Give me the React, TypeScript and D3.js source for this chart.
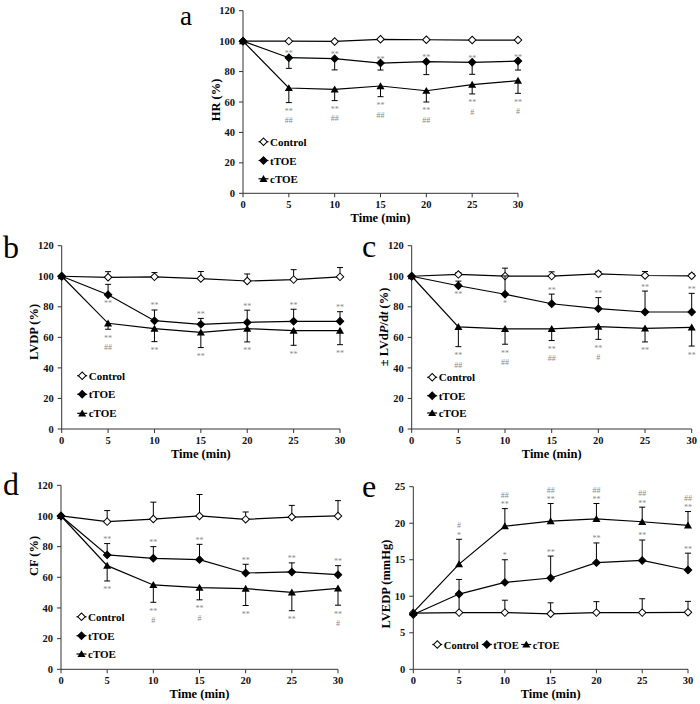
import React from "react";
import * as d3 from "d3";

// ---------- data ----------
const TIME = [0, 5, 10, 15, 20, 25, 30];
const X_TICKS = [0, 5, 10, 15, 20, 25, 30];
const PCT_TICKS = [0, 20, 40, 60, 80, 100, 120];
const MMHG_TICKS = [0, 5, 10, 15, 20, 25];
const SERIES_NAMES = ["Control", "tTOE", "cTOE"];

// a: HR (%)
const hrControl = [100, 100.0, 99.8, 101.2, 100.9, 100.7, 100.7];
const hrControlErr = [0, 0, 0, 0, 0, 0, 0];
const hrTTOE = [100, 89.1, 88.5, 85.6, 86.5, 86.1, 86.9];
const hrTTOEErr = [0, -7.0, -7.4, -4.6, -8.5, -7.9, -5.9];
const hrCTOE = [100, 69.2, 68.3, 70.5, 67.4, 71.4, 74.0];
const hrCTOEErr = [0, -9.6, -7.4, -7.0, -7.4, -6.1, -8.3];
const hrTTOEMarks = ["", "**", "**", "**", "**", "**", "**"];
const hrTTOEMarkPos = [0, 1, 1, 1, 1, 1, 1];
const hrCTOEMarks = ["", "**\n##", "**\n##", "**\n##", "**\n##", "**\n#", "**\n#"];
const hrCTOEMarkPos = [0, -1, -1, -1, -1, -1, -1];

// b: LVDP (%)
const lvdpControl = [100, 99.3, 99.6, 98.5, 96.9, 97.8, 99.6];
const lvdpControlErr = [0, 3.7, 2.8, 4.6, 4.6, 6.5, 6.1];
const lvdpTTOE = [100, 87.9, 70.9, 68.5, 69.8, 70.5, 70.5];
const lvdpTTOEErr = [0, 6.8, 7.0, 3.9, 8.0, 7.9, 6.3];
const lvdpCTOE = [100, 69.2, 65.7, 63.3, 65.7, 64.4, 64.4];
const lvdpCTOEErr = [0, -3.9, -8.5, -10.0, -8.7, -9.6, -9.2];
const lvdpTTOEMarks = ["", "**", "**", "**", "**", "**", "**"];
const lvdpTTOEMarkPos = [0, -1, 1, 1, 1, 1, 1];
const lvdpCTOEMarks = ["", "**\n##", "**", "**", "**", "**", "**"];
const lvdpCTOEMarkPos = [0, -1, -1, -1, -1, -1, -1];

// c: ±LVdP/dt (%)
const dpdtControl = [100, 101.2, 100.1, 100.1, 101.6, 100.5, 100.3];
const dpdtControlErr = [0, 1.2, 5.2, 2.8, 1.5, 2.6, 1.2];
const dpdtTTOE = [100, 93.8, 88.2, 82.0, 78.8, 76.6, 76.6];
const dpdtTTOEErr = [0, 3.0, 12.0, 6.3, 7.2, 13.7, 12.2];
const dpdtCTOE = [100, 66.8, 65.5, 65.5, 67.0, 65.9, 66.5];
const dpdtCTOEErr = [0, -12.9, -10.0, -7.6, -8.3, -8.9, -12.2];
const dpdtTTOEMarks = ["", "**", "*", "**", "**", "**", "**"];
const dpdtTTOEMarkPos = [0, -1, -1, 1, 1, 1, 1];
const dpdtCTOEMarks = ["", "**\n##", "**\n##", "**\n##", "**\n#", "**", "**"];
const dpdtCTOEMarkPos = [0, -1, -1, -1, -1, -1, -1];

// d: CF (%)
const cfControl = [100, 96.3, 98.0, 100.0, 97.8, 99.3, 100.0];
const cfControlErr = [0, 7.2, 11.0, 14.0, 4.8, 7.6, 10.0];
const cfTTOE = [100, 74.6, 72.4, 71.5, 62.8, 63.5, 61.7];
const cfTTOEErr = [0, 7.4, 7.6, 10.0, 5.7, 5.9, 5.9];
const cfCTOE = [100, 67.6, 55.0, 53.3, 52.6, 50.2, 52.8];
const cfCTOEErr = [0, -10.0, -11.3, -8.0, -11.0, -12.0, -11.0];
const cfTTOEMarks = ["", "**", "**", "**", "**", "**", "**"];
const cfTTOEMarkPos = [0, 1, 1, 1, 1, 1, 1];
const cfCTOEMarks = ["", "**", "**\n#", "**\n#", "**", "**", "**\n#"];
const cfCTOEMarkPos = [0, -1, -1, -1, -1, -1, -1];

// e: LVEDP (mmHg)
const lvedpControl = [7.7, 7.76, 7.76, 7.6, 7.76, 7.76, 7.8];
const lvedpControlErr = [0, 2.5, 1.7, 1.5, 1.5, 1.9, 1.5];
const lvedpTTOE = [7.5, 10.3, 11.9, 12.5, 14.6, 14.9, 13.6];
const lvedpTTOEErr = [0, 2.0, 3.1, 3.0, 2.7, 2.8, 2.3];
const lvedpCTOE = [7.8, 14.4, 19.6, 20.3, 20.6, 20.2, 19.7];
const lvedpCTOEErr = [0, 3.4, 2.4, 2.4, 2.1, 2.0, 1.9];
const lvedpTTOEMarks = ["", "", "*", "**", "**", "**", "**"];
const lvedpTTOEMarkPos = [0, 0, 1, 1, 1, 1, 1];
const lvedpCTOEMarks = ["", "#\n*", "##\n**", "##\n**", "##\n**", "##\n**", "##\n**"];
const lvedpCTOEMarkPos = [0, 1, 1, 1, 1, 1, 1];

const NO_MARKS = ["", "", "", "", "", "", ""];
const NO_POS = [0, 0, 0, 0, 0, 0, 0];

// ---------- layout ----------
const SERIF = "'Liberation Serif', 'Times New Roman', serif";

type Series = { values: number[]; errors: number[]; marks: string[]; pos: number[] };
type PanelCfg = {
  letter: string; letterX: number; letterY: number; letterSize: number;
  x0: number; x1: number; yTop: number; yBottom: number; yMax: number; yTicks: number[];
  yTitle: React.ReactNode; yTitleY: number; xTitleDy: number;
  legend: "vertical" | "horizontal"; legendY: number[]; series: Series[];
};

const mk = (values: number[], errors: number[], marks: string[], pos: number[]): Series => ({ values, errors, marks, pos });

const PANELS: PanelCfg[] = [
  {
    letter: "a", letterX: 180, letterY: 24.5, letterSize: 27, x0: 243, x1: 518, yTop: 10.7, yBottom: 193.3, yMax: 120, yTicks: PCT_TICKS,
    yTitle: "HR (%)", yTitleY: 100, xTitleDy: 29, legend: "vertical", legendY: [51.6, 32.8, 14.5],
    series: [mk(hrControl, hrControlErr, NO_MARKS, NO_POS), mk(hrTTOE, hrTTOEErr, hrTTOEMarks, hrTTOEMarkPos), mk(hrCTOE, hrCTOEErr, hrCTOEMarks, hrCTOEMarkPos)],
  },
  {
    letter: "b", letterX: 3, letterY: 258, letterSize: 32, x0: 61.7, x1: 340, yTop: 245.7, yBottom: 429, yMax: 120, yTicks: PCT_TICKS,
    yTitle: "LVDP (%)", yTitleY: 332, xTitleDy: 28.5, legend: "vertical", legendY: [53.3, 34.7, 15.7],
    series: [mk(lvdpControl, lvdpControlErr, NO_MARKS, NO_POS), mk(lvdpTTOE, lvdpTTOEErr, lvdpTTOEMarks, lvdpTTOEMarkPos), mk(lvdpCTOE, lvdpCTOEErr, lvdpCTOEMarks, lvdpCTOEMarkPos)],
  },
  {
    letter: "c", letterX: 362, letterY: 257, letterSize: 32, x0: 411.7, x1: 691.7, yTop: 245.7, yBottom: 429, yMax: 120, yTicks: PCT_TICKS,
    yTitle: (
      <>
        {"± LVd"}<tspan fontStyle="italic">P</tspan>{"/d"}<tspan fontStyle="italic">t</tspan>{" (%)"}
      </>
    ),
    yTitleY: 327, xTitleDy: 28.5, legend: "vertical", legendY: [51.7, 33.3, 16],
    series: [mk(dpdtControl, dpdtControlErr, NO_MARKS, NO_POS), mk(dpdtTTOE, dpdtTTOEErr, dpdtTTOEMarks, dpdtTTOEMarkPos), mk(dpdtCTOE, dpdtCTOEErr, dpdtCTOEMarks, dpdtCTOEMarkPos)],
  },
  {
    letter: "d", letterX: 3, letterY: 495, letterSize: 32, x0: 61, x1: 338, yTop: 485.3, yBottom: 669.3, yMax: 120, yTicks: PCT_TICKS,
    yTitle: "CF (%)", yTitleY: 556, xTitleDy: 29, legend: "vertical", legendY: [52.6, 33.6, 15.3],
    series: [mk(cfControl, cfControlErr, NO_MARKS, NO_POS), mk(cfTTOE, cfTTOEErr, cfTTOEMarks, cfTTOEMarkPos), mk(cfCTOE, cfCTOEErr, cfCTOEMarks, cfCTOEMarkPos)],
  },
  {
    letter: "e", letterX: 362, letterY: 497, letterSize: 32, x0: 413.3, x1: 688, yTop: 486.7, yBottom: 669.3, yMax: 25, yTicks: MMHG_TICKS,
    yTitle: "LVEDP (mmHg)", yTitleY: 584, xTitleDy: 29, legend: "horizontal", legendY: [24.8],
    series: [mk(lvedpControl, lvedpControlErr, NO_MARKS, NO_POS), mk(lvedpTTOE, lvedpTTOEErr, lvedpTTOEMarks, lvedpTTOEMarkPos), mk(lvedpCTOE, lvedpCTOEErr, lvedpCTOEMarks, lvedpCTOEMarkPos)],
  },
];

const diamondPath = d3.symbol(d3.symbolSquare, 28)() as string;
const trianglePath = d3.symbol(d3.symbolTriangle, 28)() as string;

function Marker({ kind, x, y }: { kind: number; x: number; y: number }) {
  if (kind === 2) return <path d={trianglePath} transform={`translate(${x},${y + 0.8})`} fill="#000" />;
  return (
    <path
      d={diamondPath}
      transform={`translate(${x},${y}) rotate(45)`}
      fill={kind === 0 ? "#fff" : "#000"}
      stroke="#000"
      strokeWidth={1}
    />
  );
}

const ANN_FS = 8;
const ANN_STEP = 9.4;
const annOffset = (ln: string) => (ln.includes("*") ? ANN_FS * 0.62 : ANN_FS * 0.32);

function Panel({ cfg }: { cfg: PanelCfg }) {
  const x = d3.scaleLinear().domain([0, 30]).range([cfg.x0, cfg.x1]);
  const y = d3.scaleLinear().domain([0, cfg.yMax]).range([cfg.yBottom, cfg.yTop]);
  const line = d3.line<number>().x((_, i) => x(TIME[i])).y((v) => y(v));
  const midX = (cfg.x0 + cfg.x1) / 2;

  return (
    <g>
      <text x={cfg.letterX} y={cfg.letterY} fontFamily={SERIF} fontSize={cfg.letterSize} fill="#000">{cfg.letter}</text>

      {/* axes */}
      <line x1={cfg.x0} x2={cfg.x0} y1={cfg.yTop} y2={cfg.yBottom} stroke="#333" strokeWidth={1} />
      <line x1={cfg.x0} x2={cfg.x1} y1={cfg.yBottom} y2={cfg.yBottom} stroke="#333" strokeWidth={1} />
      {cfg.yTicks.map((t) => (
        <g key={"yt" + t}>
          <line x1={cfg.x0 - 4} x2={cfg.x0} y1={y(t)} y2={y(t)} stroke="#333" />
          <text x={cfg.x0 - 8} y={y(t) + 3.6} textAnchor="end" fontFamily={SERIF} fontWeight="bold" fontSize={10.5} fill="#111">{t}</text>
        </g>
      ))}
      {X_TICKS.map((t) => (
        <g key={"xt" + t}>
          <line x1={x(t)} x2={x(t)} y1={cfg.yBottom} y2={cfg.yBottom + 4} stroke="#333" />
          <text x={x(t)} y={cfg.yBottom + 15} textAnchor="middle" fontFamily={SERIF} fontWeight="bold" fontSize={10.5} fill="#111">{t}</text>
        </g>
      ))}
      <text x={midX} y={cfg.yBottom + cfg.xTitleDy} textAnchor="middle" fontFamily={SERIF} fontWeight="bold" fontSize={12.5} fill="#000">Time (min)</text>
      <text
        transform={`translate(${cfg.x0 - 23.5},${cfg.yTitleY}) rotate(-90)`}
        textAnchor="middle" fontFamily={SERIF} fontWeight="bold" fontSize={12.5} fill="#000"
      >{cfg.yTitle}</text>

      {/* series */}
      {cfg.series.map((s, si) => (
        <g key={"s" + si}>
          {s.values.map((v, i) =>
            s.errors[i] === 0 ? null : (
              <g key={"e" + i} stroke="#000" strokeWidth={1}>
                <line x1={x(TIME[i])} x2={x(TIME[i])} y1={y(v)} y2={y(v + s.errors[i])} />
                <line x1={x(TIME[i]) - 3} x2={x(TIME[i]) + 3} y1={y(v + s.errors[i])} y2={y(v + s.errors[i])} />
              </g>
            )
          )}
          <path d={line(s.values) as string} fill="none" stroke="#000" strokeWidth={1.2} />
          {s.values.map((v, i) => <Marker key={"m" + i} kind={si} x={x(TIME[i])} y={y(v)} />)}
          {s.marks.map((m, i) => {
            if (!m) return null;
            const lines = m.split("\n");
            const py = y(s.values[i]);
            const ey = y(s.values[i] + s.errors[i]);
            const n = lines.length;
            let baselines: number[];
            if (s.pos[i] > 0) {
              const last = Math.min(py, ey) - 6.5 + annOffset(lines[n - 1]);
              baselines = lines.map((_, k) => last - (n - 1 - k) * ANN_STEP);
            } else {
              const first = Math.max(py, ey) + 6.5 + annOffset(lines[0]);
              baselines = lines.map((_, k) => first + k * ANN_STEP);
            }
            return lines.map((ln, k) => (
              <text
                key={"a" + i + "_" + k}
                x={x(TIME[i])}
                y={baselines[k]}
                textAnchor="middle" fontFamily={SERIF} fontSize={ANN_FS} fill="#8a8a8a"
              >{ln}</text>
            ));
          })}
        </g>
      ))}

      {/* legend */}
      {cfg.legend === "vertical"
        ? SERIES_NAMES.map((name, si) => {
            const cx = cfg.x0 + 20.5;
            const cy = cfg.yBottom - cfg.legendY[si];
            return (
              <g key={"l" + si}>
                <line x1={cx - 5} x2={cx + 5} y1={cy} y2={cy} stroke="#000" strokeWidth={1.2} />
                <Marker kind={si} x={cx} y={cy} />
                <text x={cx + 6.5} y={cy + 4} fontFamily={SERIF} fontWeight="bold" fontSize={11} fill="#000">{name}</text>
              </g>
            );
          })
        : SERIES_NAMES.map((name, si) => {
            const cxs = [cfg.x0 + 24, cfg.x0 + 73.5, cfg.x0 + 113];
            const cx = cxs[si];
            const cy = cfg.yBottom - cfg.legendY[0];
            return (
              <g key={"l" + si}>
                <line x1={cx - 5} x2={cx + 5} y1={cy} y2={cy} stroke="#000" strokeWidth={1.2} />
                <Marker kind={si} x={cx} y={cy} />
                <text x={cx + 6.5} y={cy + 4} fontFamily={SERIF} fontWeight="bold" fontSize={10.5} fill="#000">{name}</text>
              </g>
            );
          })}
    </g>
  );
}

export default function App() {
  return (
    <div style={{ position: "absolute", left: 0, top: 0 }}>
      <svg width={700} height={704} viewBox="0 0 700 704" style={{ display: "block", background: "#fff" }}>
        <rect width={700} height={704} fill="#fff" />
        {PANELS.map((p) => <Panel key={p.letter} cfg={p} />)}
      </svg>
    </div>
  );
}
